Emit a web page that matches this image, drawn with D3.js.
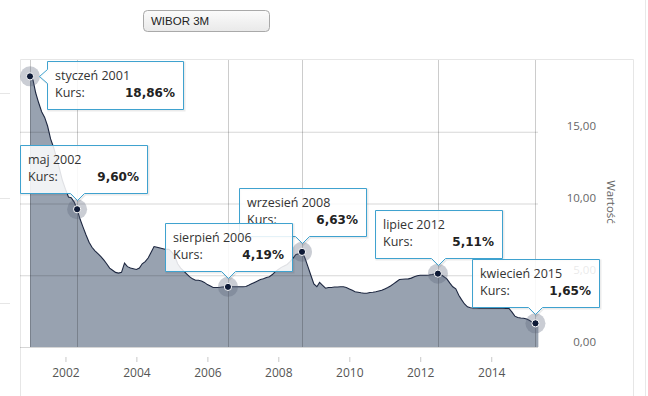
<!DOCTYPE html>
<html>
<head>
<meta charset="utf-8">
<script src="https://cdn.jsdelivr.net/npm/d3@7"></script>
<style>
  body { margin: 0; background: #fff; }
  svg { display: block; }
</style>
</head>
<body>
<div id="content"></div>
<script>
// WIBOR 3M, monthly values (%)
var startYear = 2001;
var w2001 = [18.86, 18.6, 17.7, 17.0, 16.4, 16.0, 15.4, 14.5, 13.9, 13.2, 12.4, 11.6];
var w2002 = [11.0, 10.45, 10.4, 10.1, 9.60, 8.9, 8.35, 7.8, 7.3, 6.95, 6.7, 6.5];
var w2003 = [6.3, 6.05, 5.8, 5.5, 5.35, 5.2, 5.15, 5.2, 5.85, 5.6, 5.5, 5.45];
var w2004 = [5.4, 5.5, 5.8, 5.95, 6.2, 6.6, 7.0, 6.95, 6.9, 6.85, 6.8, 6.8];
var w2005 = [6.6, 6.3, 5.8, 5.5, 5.3, 5.1, 4.9, 4.75, 4.65, 4.65, 4.6, 4.5];
var w2006 = [4.35, 4.25, 4.15, 4.15, 4.15, 4.18, 4.2, 4.19, 4.2, 4.2, 4.2, 4.2];
var w2007 = [4.2, 4.22, 4.3, 4.4, 4.5, 4.6, 4.7, 4.75, 4.85, 4.9, 5.05, 5.25];
var w2008 = [5.4, 5.55, 5.65, 5.75, 5.95, 6.2, 6.45, 6.5, 6.63, 6.2, 5.6, 5.0];
var w2009 = [4.4, 4.2, 4.5, 4.3, 4.1, 4.15, 4.15, 4.18, 4.18, 4.2, 4.2, 4.15];
var w2010 = [4.05, 3.95, 3.85, 3.82, 3.78, 3.75, 3.75, 3.8, 3.82, 3.85, 3.9, 3.95];
var w2011 = [4.05, 4.15, 4.25, 4.4, 4.55, 4.7, 4.72, 4.74, 4.75, 4.8, 4.9, 4.97];
var w2012 = [5.0, 5.0, 5.0, 5.02, 5.05, 5.1, 5.11, 5.05, 4.9, 4.75, 4.45, 4.2];
var w2013 = [4.05, 3.6, 3.3, 3.0, 2.8, 2.74, 2.72, 2.72, 2.7, 2.7, 2.7, 2.7];
var w2014 = [2.71, 2.71, 2.71, 2.71, 2.71, 2.68, 2.7, 2.45, 2.15, 2.05, 2.02, 2.0];
var w2015 = [1.95, 1.85, 1.7, 1.65, 1.65];
var years = [w2001, w2002, w2003, w2004, w2005, w2006, w2007, w2008,
             w2009, w2010, w2011, w2012, w2013, w2014, w2015];

var monthNames = ["styczeń", "luty", "marzec", "kwiecień", "maj", "czerwiec",
                  "lipiec", "sierpień", "wrzesień", "październik", "listopad", "grudzień"];

// highlighted points: [year, month index]
var markYears = [2001, 2002, 2006, 2008, 2012, 2015];
var markMonths = [0, 4, 7, 8, 6, 3];

var yTicks = [0, 5, 10, 15];
var xTicks = [2002, 2004, 2006, 2008, 2010, 2012, 2014];

var seriesName = "WIBOR 3M";
var yTitle = "Wartość";

// flatten into {date, value}
var data = [];
years.forEach(function(arr, i) {
  arr.forEach(function(v, m) {
    data.push({ date: new Date(startYear + i, m, 1), value: v, y: startYear + i, m: m });
  });
});

var width = 648, height = 396;
var plotLeft = 20, plotRight = 538, plotTop = 60, plotBottom = 347;

var svg = d3.select("#content").append("svg")
  .attr("width", width)
  .attr("height", height);

var x = d3.scaleTime()
  .domain([new Date(2001, 0, 1), new Date(2015, 0, 1)])
  .range([30, 526.7]);

var y = d3.scaleLinear()
  .domain([0, 20])
  .range([plotBottom, plotTop]);

var fmt = function(v) { return d3.format(".2f")(v).replace(".", ","); };

// container frame
svg.append("path")
  .attr("d", "M20.5,396 V59.5 H633.5 V396")
  .attr("fill", "none")
  .attr("stroke", "#e6e6e6");
svg.append("line")
  .attr("x1", 645.5).attr("x2", 645.5).attr("y1", 0).attr("y2", height)
  .attr("stroke", "#e8e8e8");
[93, 198, 303].forEach(function(yy) {
  svg.append("line")
    .attr("x1", 0).attr("x2", 10).attr("y1", yy + 0.5).attr("y2", yy + 0.5)
    .attr("stroke", "#e6e6e6");
});

// dropdown
var dd = svg.append("g");
var grad = svg.append("defs").append("linearGradient")
  .attr("id", "ddgrad").attr("x1", 0).attr("x2", 0).attr("y1", 0).attr("y2", 1);
grad.append("stop").attr("offset", "0%").attr("stop-color", "#fbfbfb");
grad.append("stop").attr("offset", "100%").attr("stop-color", "#e9e9e9");
dd.append("rect")
  .attr("x", 143.5).attr("y", 10.5).attr("width", 126).attr("height", 21)
  .attr("rx", 4)
  .attr("fill", "url(#ddgrad)")
  .attr("stroke", "#a9a9a9");
dd.append("text")
  .attr("x", 151).attr("y", 25)
  .attr("font-family", "Liberation Sans, Arial, sans-serif")
  .attr("font-size", "11.5px")
  .attr("fill", "#222")
  .text(seriesName);

// area + line
var area = d3.area()
  .x(function(d) { return x(d.date); })
  .y0(y(0))
  .y1(function(d) { return y(d.value); });

var line = d3.line()
  .x(function(d) { return x(d.date); })
  .y(function(d) { return y(d.value); });

svg.append("path")
  .datum(data)
  .attr("d", area)
  .attr("fill", "#98a2b0");

// horizontal grid
svg.append("g")
  .attr("transform", "translate(" + plotRight + ",0)")
  .call(d3.axisRight(y).tickValues(yTicks).tickSize(-(plotRight - plotLeft)).tickFormat(""))
  .call(function(g) {
    g.select(".domain").remove();
    g.selectAll(".tick line").attr("stroke", "#000").attr("stroke-opacity", 0.16);
  });

// marked points
var marks = markYears.map(function(yr, i) {
  return data.filter(function(d) { return d.y === yr && d.m === markMonths[i]; })[0];
});

// vertical plot lines through marked points
svg.selectAll(".plotline")
  .data(marks)
  .enter().append("line")
  .attr("class", "plotline")
  .attr("x1", function(d) { return Math.round(x(d.date)) + 0.5; })
  .attr("x2", function(d) { return Math.round(x(d.date)) + 0.5; })
  .attr("y1", plotTop)
  .attr("y2", plotBottom)
  .attr("stroke", "#000")
  .attr("stroke-opacity", 0.2);

svg.append("path")
  .datum(data)
  .attr("d", line)
  .attr("fill", "none")
  .attr("stroke", "#1d2740")
  .attr("stroke-width", 1.1);

// x axis
svg.append("g")
  .attr("transform", "translate(0,357)")
  .call(d3.axisBottom(x)
    .tickValues(xTicks.map(function(t) { return new Date(t, 0, 1); }))
    .tickSize(5)
    .tickFormat(d3.timeFormat("%Y")))
  .call(function(g) {
    g.select(".domain").remove();
    g.selectAll(".tick line").attr("stroke", "#c8c8c8");
    g.selectAll(".tick text")
      .attr("y", 20).attr("dy", null)
      .attr("font-family", "Open Sans, sans-serif")
      .attr("font-size", "12px")
      .attr("fill", "#555");
  });

// y axis labels on the right
svg.append("g")
  .attr("transform", "translate(596,0)")
  .call(d3.axisRight(y).tickValues(yTicks).tickSize(0).tickPadding(0).tickFormat(fmt))
  .call(function(g) {
    g.select(".domain").remove();
    g.selectAll(".tick text")
      .attr("text-anchor", "end")
      .attr("x", 0).attr("y", -2).attr("dy", null)
      .attr("font-family", "Open Sans, sans-serif")
      .attr("font-size", "11.5px")
      .attr("fill", "#666");
  });

svg.append("text")
  .attr("transform", "translate(607,202) rotate(90)")
  .attr("text-anchor", "middle")
  .attr("font-family", "Open Sans, sans-serif")
  .attr("font-size", "11.5px")
  .attr("fill", "#666")
  .text(yTitle);

// markers
var mk = svg.selectAll(".marker")
  .data(marks)
  .enter().append("g")
  .attr("class", "marker")
  .attr("transform", function(d) { return "translate(" + x(d.date) + "," + y(d.value) + ")"; });
mk.append("circle").attr("r", 10).attr("fill", "#5a6579").attr("fill-opacity", 0.32);
mk.append("circle").attr("r", 3.6).attr("fill", "#0e1a36").attr("stroke", "#fff").attr("stroke-width", 1);

// tooltips
var tipOrder = [0, 1, 3, 2, 4, 5];
tipOrder.forEach(function(i) {
  var d = marks[i];
  var px = Math.round(x(d.date)), py = Math.round(y(d.value));
  var g = svg.append("g");
  var shadow = g.append("path");
  var box = g.append("path");
  var t1 = g.append("text")
    .attr("font-family", "Open Sans, sans-serif").attr("font-size", "12.5px").attr("fill", "#333")
    .text(monthNames[d.m] + " " + d.y);
  var t2 = g.append("text")
    .attr("font-family", "Open Sans, sans-serif").attr("font-size", "12.5px").attr("fill", "#333")
    .text("Kurs:");
  var t3 = g.append("text")
    .attr("font-family", "DejaVu Sans, Verdana, sans-serif").attr("font-size", "12px")
    .attr("font-weight", "bold").attr("fill", "#222").attr("text-anchor", "end")
    .text(fmt(d.value) + "%");
  var w = Math.round(Math.max(t1.node().getComputedTextLength() + 16,
    16 + t2.node().getComputedTextLength() + 40 + t3.node().getComputedTextLength()));
  var h = 48;
  var bx, by, p;
  if (py - 16 - h >= plotTop) {
    bx = Math.max(plotLeft, Math.round(px - w / 2));
    by = py - 16 - h;
    p = "M" + (bx + 0.5) + "," + (by + 0.5) + " H" + (bx + w + 0.5) + " V" + (by + h + 0.5) +
      " H" + (px + 7.5) + " L" + (px + 0.5) + "," + (by + h + 7.5) + " L" + (px - 6.5) + "," + (by + h + 0.5) +
      " H" + (bx + 0.5) + " Z";
  } else {
    bx = px + 17;
    by = py - 15;
    p = "M" + (bx + 0.5) + "," + (by + 0.5) + " H" + (bx + w + 0.5) + " V" + (by + h + 0.5) +
      " H" + (bx + 0.5) + " V" + (py + 7.5) + " L" + (bx - 7.5) + "," + (py + 0.5) + " L" + (bx + 0.5) + "," + (py - 6.5) + " Z";
  }
  shadow.attr("d", p).attr("transform", "translate(1,1)")
    .attr("fill", "none").attr("stroke", "#000").attr("stroke-opacity", 0.08).attr("stroke-width", 2);
  box.attr("d", p).attr("fill", "#fff").attr("fill-opacity", 0.86)
    .attr("stroke", "#3fa2cf").attr("stroke-width", 1);
  t1.attr("x", bx + 8).attr("y", by + 19);
  t2.attr("x", bx + 8).attr("y", by + 36);
  t3.attr("x", bx + w - 8).attr("y", by + 36);
});
</script>
</body>
</html>
